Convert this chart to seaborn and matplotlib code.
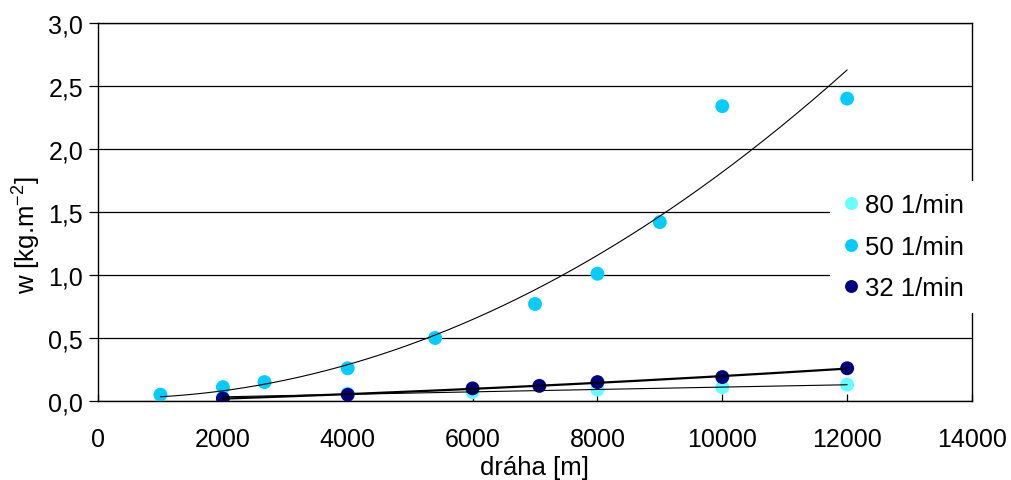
import numpy as np
import pandas as pd
import matplotlib
matplotlib.use("Agg")
import matplotlib.pyplot as plt
import seaborn as sns

# ---- data ----
series_names = ["80 1/min", "50 1/min", "32 1/min"]
series_colors = ["#66FFFF", "#00CCFF", "#000080"]

x_80 = [2000, 4000, 6000, 8000, 10000, 12000]
w_80 = [0.03, 0.06, 0.07, 0.09, 0.11, 0.13]

x_50 = [1000, 2000, 2667, 4000, 5400, 7000, 8000, 9000, 10000, 12000]
w_50 = [0.05, 0.11, 0.15, 0.26, 0.50, 0.77, 1.01, 1.42, 2.34, 2.40]

x_32 = [2000, 4000, 6000, 7070, 8000, 10000, 12000]
w_32 = [0.02, 0.05, 0.10, 0.12, 0.15, 0.19, 0.26]

trend_degree = [2, 2, 2]

x_ticks = [0, 2000, 4000, 6000, 8000, 10000, 12000, 14000]
x_tick_labels = ["0", "2000", "4000", "6000", "8000", "10000", "12000", "14000"]
y_ticks = [0.0, 0.5, 1.0, 1.5, 2.0, 2.5, 3.0]
y_tick_labels = ["0,0", "0,5", "1,0", "1,5", "2,0", "2,5", "3,0"]

x_label = "dráha [m]"
y_label = "w [kg.m$^{-2}$]"

# ---- style ----
sns.set_style("white")
plt.rcParams["font.family"] = ["Liberation Sans", "DejaVu Sans"]
plt.rcParams["mathtext.default"] = "regular"
plt.rcParams["text.color"] = "black"
plt.rcParams["axes.labelcolor"] = "black"
plt.rcParams["xtick.color"] = "black"
plt.rcParams["ytick.color"] = "black"
FS = 18.5
TFS = 18

W, H = 1012, 481
fig = plt.figure(figsize=(W / 100, H / 100), dpi=100)
ax = fig.add_axes([98 / W, 1 - 402 / H, (972 - 98) / W, (402 - 24) / H])

frames = []
for name, xs, ws in [(series_names[0], x_80, w_80),
                     (series_names[1], x_50, w_50),
                     (series_names[2], x_32, w_32)]:
    frames.append(pd.DataFrame({"x": xs, "w": ws, "series": name}))
df = pd.concat(frames, ignore_index=True)

sns.scatterplot(data=df, x="x", y="w", hue="series", hue_order=series_names,
                palette=series_colors, s=100, linewidth=0, ax=ax, zorder=3)

# trendlines (least-squares fits of each series, like spreadsheet trendlines)
trend_lw = [0.8, 0.8, 1.6]
for (xs, ws), deg, lw in zip([(x_80, w_80), (x_50, w_50), (x_32, w_32)],
                             trend_degree, trend_lw):
    coef = np.polyfit(np.array(xs) / 1000.0, ws, deg)
    xx = np.linspace(min(xs), max(xs), 300)
    yy = np.polyval(coef, xx / 1000.0)
    sns.lineplot(x=xx, y=yy, color="black", linewidth=lw, ax=ax,
                 legend=False, zorder=4)

ax.set_xlim(0, 14000)
ax.set_ylim(0, 3.0)
ax.set_xticks(x_ticks)
ax.set_xticklabels(x_tick_labels)
ax.set_yticks(y_ticks)
ax.set_yticklabels(y_tick_labels)

ax.yaxis.grid(True, color="black", linewidth=0.9)
ax.xaxis.grid(False)
ax.set_axisbelow(True)
for sp in ax.spines.values():
    sp.set_visible(True)
    sp.set_color("black")
    sp.set_linewidth(1.0)

ax.tick_params(axis="x", direction="in", length=5, width=0.9,
               labelsize=TFS, pad=19, bottom=True)
ax.tick_params(axis="y", direction="out", length=6.2, width=0.9,
               labelsize=TFS, pad=4.5, left=True)

ax.set_xlabel(x_label, fontsize=FS)
ax.set_ylabel(y_label, fontsize=FS)
ax.xaxis.set_label_coords(0.5, -0.143)
ax.yaxis.set_label_coords(-0.063, 0.44)

sns.move_legend(ax, "upper left",
                bbox_to_anchor=(830 / W, 1 - 182 / H, (1005 - 830) / W, 0.0),
                bbox_transform=fig.transFigure, mode="expand",
                borderaxespad=0.0,
                title=None, frameon=True, fancybox=False, framealpha=1,
                facecolor="white", edgecolor="none", fontsize=FS,
                borderpad=0.48, handlelength=0.66, handletextpad=0.21,
                labelspacing=0.68, markerscale=0.93)
leg = ax.get_legend()
leg.set_zorder(10)

fig.savefig("out.png", dpi=100, facecolor="white")
